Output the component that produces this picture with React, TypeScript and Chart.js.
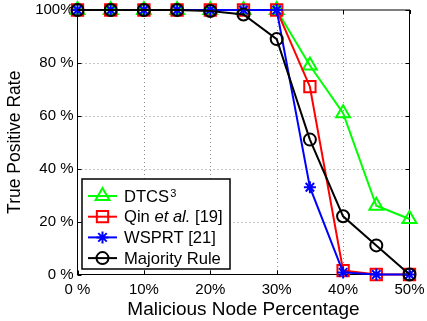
import React, { useEffect, useRef } from "react";
import { Chart, registerables } from "chart.js";
Chart.register(...registerables);

const percentages = [0, 5, 10, 15, 20, 25, 30, 35, 40, 45, 50];
const dtcs = [100, 100, 100, 100, 100, 100, 100, 79, 61, 26, 21];
const qin = [100, 100, 100, 100, 100, 100, 100, 71, 1.5, 0, 0];
const wsprt = [100, 100, 100, 100, 100, 100, 100, 33, 0.8, 0, 0];
const majority = [100, 100, 100, 100, 99.6, 98.3, 89, 51, 22, 11, 0];

const xTickValues = [0, 10, 20, 30, 40, 50];
const xTickLabels = ["0 %", "10%", "20%", "30%", "40%", "50%"];
const yTickValues = [0, 20, 40, 60, 80, 100];
const yTickLabels = ["0 %", "20 %", "40 %", "60 %", "80 %", "100%"];

const xTitle = "Malicious Node Percentage";
const yTitle = "True Positive Rate";

const FONT = '"Liberation Sans", Arial, Helvetica, sans-serif';

type Part = { t: string; italic?: boolean; sup?: boolean };
const seriesInfo = [
  { data: dtcs, color: "#00ff00", style: "triangle", radius: 8, parts: [{ t: "DTCS" }, { t: "3", sup: true }] as Part[] },
  { data: qin, color: "#ff0000", style: "rect", radius: 8, parts: [{ t: "Qin " }, { t: "et al.", italic: true }, { t: " [19]" }] as Part[] },
  { data: wsprt, color: "#0000ff", style: "star", radius: 6, parts: [{ t: "WSPRT [21]" }] as Part[] },
  { data: majority, color: "#000000", style: "circle", radius: 6, parts: [{ t: "Majority Rule" }] as Part[] },
];

function drawMarker(ctx: CanvasRenderingContext2D, style: string, x: number, y: number, r: number, color: string) {
  ctx.save();
  ctx.strokeStyle = color;
  ctx.lineWidth = 2;
  ctx.setLineDash([]);
  ctx.beginPath();
  if (style === "triangle") {
    for (let i = 0; i < 3; i++) {
      const a = -Math.PI / 2 + (i * 2 * Math.PI) / 3;
      const px = x + Math.cos(a) * r;
      const py = y + Math.sin(a) * r;
      if (i === 0) ctx.moveTo(px, py);
      else ctx.lineTo(px, py);
    }
    ctx.closePath();
  } else if (style === "rect") {
    const s = r * Math.SQRT1_2;
    ctx.rect(x - s, y - s, 2 * s, 2 * s);
  } else if (style === "star") {
    ctx.moveTo(x - r, y);
    ctx.lineTo(x + r, y);
    ctx.moveTo(x, y - r);
    ctx.lineTo(x, y + r);
    const d = r * Math.SQRT1_2;
    ctx.moveTo(x - d, y - d);
    ctx.lineTo(x + d, y + d);
    ctx.moveTo(x - d, y + d);
    ctx.lineTo(x + d, y - d);
  } else {
    ctx.arc(x, y, r, 0, Math.PI * 2);
  }
  ctx.stroke();
  ctx.restore();
}

const framePlugin = {
  id: "frame",
  beforeDatasetsDraw(chart: any) {
    const { ctx, chartArea: a, scales } = chart;
    const xs = scales.x;
    const ys = scales.y;
    ctx.save();
    ctx.strokeStyle = "#8a8a8a";
    ctx.lineWidth = 1;
    ctx.setLineDash([1, 3]);
    xTickValues.forEach((v) => {
      if (v === xTickValues[0] || v === xTickValues[xTickValues.length - 1]) return;
      const px = Math.round(xs.getPixelForValue(v)) + 0.5;
      ctx.beginPath();
      ctx.moveTo(px, a.top);
      ctx.lineTo(px, a.bottom);
      ctx.stroke();
    });
    yTickValues.forEach((v) => {
      if (v === yTickValues[0] || v === yTickValues[yTickValues.length - 1]) return;
      const py = Math.round(ys.getPixelForValue(v)) + 0.5;
      ctx.beginPath();
      ctx.moveTo(a.left, py);
      ctx.lineTo(a.right, py);
      ctx.stroke();
    });
    ctx.setLineDash([]);
    ctx.strokeStyle = "#000";
    ctx.lineWidth = 1;
    ctx.strokeRect(a.left, a.top, a.right - a.left, a.bottom - a.top);
    const tl = 4;
    ctx.beginPath();
    xTickValues.forEach((v) => {
      const px = Math.round(xs.getPixelForValue(v)) + 0.5;
      ctx.moveTo(px, a.bottom);
      ctx.lineTo(px, a.bottom - tl);
      ctx.moveTo(px, a.top);
      ctx.lineTo(px, a.top + tl);
    });
    yTickValues.forEach((v) => {
      const py = Math.round(ys.getPixelForValue(v)) + 0.5;
      ctx.moveTo(a.left, py);
      ctx.lineTo(a.left + tl, py);
      ctx.moveTo(a.right, py);
      ctx.lineTo(a.right - tl, py);
    });
    ctx.stroke();
    ctx.restore();
  },
};

const legendPlugin = {
  id: "customLegend",
  afterDatasetsDraw(chart: any) {
    const { ctx, chartArea: a } = chart;
    const left = a.left + 4.5;
    const bottom = a.bottom - 5.5;
    const w = 148;
    const h = 90;
    const top = bottom - h;
    ctx.save();
    ctx.fillStyle = "#fff";
    ctx.fillRect(left, top, w, h);
    ctx.strokeStyle = "#000";
    ctx.lineWidth = 1.5;
    ctx.strokeRect(left, top, w, h);
    const rowGap = 20.7;
    seriesInfo.forEach((s, i) => {
      const cy = top + 17 + i * rowGap;
      ctx.strokeStyle = s.color;
      ctx.lineWidth = 2;
      ctx.beginPath();
      ctx.moveTo(left + 6, cy);
      ctx.lineTo(left + 35, cy);
      ctx.stroke();
      drawMarker(ctx, s.style, left + 20.5, cy, s.radius, s.color);
      let x = left + 42;
      const base = cy + 5.7;
      ctx.fillStyle = "#000";
      ctx.textBaseline = "alphabetic";
      ctx.textAlign = "left";
      s.parts.forEach((p) => {
        if (p.sup) {
          ctx.font = `11px ${FONT}`;
          ctx.fillText(p.t, x + 1, base - 4.5);
          x += ctx.measureText(p.t).width;
        } else {
          ctx.font = `${p.italic ? "italic " : ""}16.6px ${FONT}`;
          ctx.fillText(p.t, x, base);
          x += ctx.measureText(p.t).width;
        }
      });
    });
    ctx.restore();
  },
};

export default function App() {
  const ref = useRef<HTMLCanvasElement | null>(null);
  useEffect(() => {
    if (!ref.current) return;
    const datasets = seriesInfo.map((s, i) => ({
      label: s.parts.map((p) => p.t).join(""),
      data: percentages.map((x, j) => ({ x, y: s.data[j] })),
      borderColor: s.color,
      backgroundColor: "rgba(0,0,0,0)",
      borderWidth: 2,
      pointStyle: s.style,
      pointRadius: s.radius,
      pointBorderWidth: 2,
      pointBorderColor: s.color,
      pointBackgroundColor: "rgba(0,0,0,0)",
      tension: 0,
      clip: false as any,
      order: seriesInfo.length - i,
    }));
    const chart = new Chart(ref.current, {
      type: "line",
      data: { datasets },
      options: {
        animation: false,
        responsive: false,
        layout: { padding: { top: 6.5, right: 17.5, left: 0, bottom: 0 } },
        plugins: { legend: { display: false }, tooltip: { enabled: false } },
        scales: {
          x: {
            type: "linear",
            min: 0,
            max: 50,
            afterBuildTicks: (s: any) => {
              s.ticks = xTickValues.map((v) => ({ value: v }));
            },
            afterFit: (s: any) => {
              s.height = 46.5;
              s.paddingLeft = 0;
              s.paddingRight = 0;
            },
            grid: { display: false, drawTicks: false },
            border: { display: false },
            ticks: {
              color: "#000",
              font: { family: FONT, size: 15 },
              padding: 6,
              maxRotation: 0,
              autoSkip: false,
              callback: (v: any) => xTickLabels[xTickValues.indexOf(Number(v))] ?? "",
            },
            title: {
              display: true,
              text: xTitle,
              color: "#000",
              font: { family: FONT, size: 19 },
              padding: { top: 0, bottom: 0 },
            },
          },
          y: {
            type: "linear",
            min: 0,
            max: 100,
            afterBuildTicks: (s: any) => {
              s.ticks = yTickValues.map((v) => ({ value: v }));
            },
            afterFit: (s: any) => {
              s.width = 77.5;
              s.paddingTop = 0;
              s.paddingBottom = 0;
            },
            grid: { display: false, drawTicks: false },
            border: { display: false },
            ticks: {
              color: "#000",
              font: { family: FONT, size: 15 },
              padding: 4,
              autoSkip: false,
              callback: (v: any) => yTickLabels[yTickValues.indexOf(Number(v))] ?? "",
            },
            title: {
              display: true,
              text: yTitle,
              color: "#000",
              font: { family: FONT, size: 17.5 },
              padding: { top: 4.5, bottom: 0 },
            },
          },
        },
      },
      plugins: [framePlugin, legendPlugin],
    });
    return () => chart.destroy();
  }, []);
  return (
    <div style={{ position: "absolute", left: 0, top: 0, width: 427, height: 321, background: "#fff" }}>
      <canvas ref={ref} width={427} height={321} style={{ width: 427, height: 321, display: "block" }} />
    </div>
  );
}
